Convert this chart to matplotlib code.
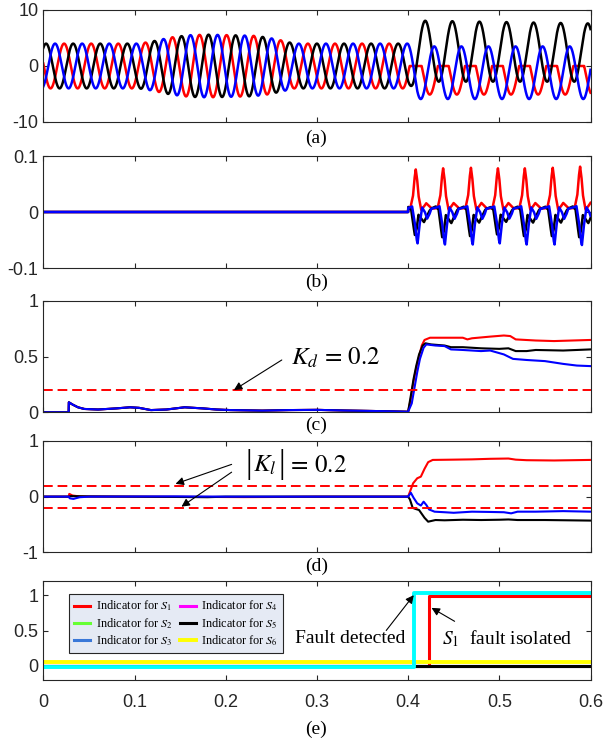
import numpy as np
import matplotlib
matplotlib.use('Agg')
import matplotlib.pyplot as plt

plt.rcParams['font.family'] = ['Liberation Sans', 'DejaVu Sans']
plt.rcParams['mathtext.fontset'] = 'stix'
plt.rcParams['axes.unicode_minus'] = False

SERIF = ['Liberation Serif', 'DejaVu Serif']
RED, BLACK, BLUE = '#ff0000', '#000000', '#0000ff'

# ---------------- (a) phase currents ----------------
period = 0.0297        # s, electrical period
first_peak = 0.003     # first peak of the black phase
lag_black, lag_blue, lag_red = 0.0, 1 / 3, 2 / 3   # fraction of a period

# amplitude envelope before the fault
env_t = [0.0, 0.105, 0.12, 0.14, 0.16, 0.18, 0.23, 0.245, 0.26, 0.275, 0.40]
env_amp = [4.0, 4.0, 4.4, 5.1, 5.5, 5.6, 5.4, 5.1, 4.6, 4.0, 4.0]

# amplitude / dc offset after the fault
fault_t = [0.400, 0.410, 0.600]
black_amp = [4.0, 5.45, 5.2]
black_off = [0.0, 2.65, 2.4]
blue_amp = [4.0, 4.7, 4.7]
blue_off = [0.0, -1.2, -1.2]
red_amp = [4.0, 3.9, 3.9]
red_off = [0.0, -1.2, -1.2]

# ---------------- (b) residuals ----------------
b_spike_t = [0.4084, 0.4384, 0.4689, 0.4985, 0.5280, 0.5586, 0.5886]
b_red_pk = [0.076, 0.078, 0.079, 0.078, 0.078, 0.079, 0.081]
b_black_pk = [-0.041, -0.045, -0.043, -0.040, -0.043, -0.043, -0.045]
b_blue_pk = [-0.056, -0.058, -0.058, -0.056, -0.058, -0.058, -0.059]
# one cycle of each residual around the spike
b_red_dt = [-0.0125, -0.006, -0.003, -0.0015, 0.0, 0.0015, 0.003, 0.006, 0.009, 0.0115, 0.014, 0.017]
b_red_v = [0.006, 0.007, 0.03, 0.06, 0.078, 0.06, 0.03, 0.004, 0.01, 0.016, 0.012, 0.007]
b_black_dt = [-0.0125, -0.008, -0.005, -0.003, -0.001, 0.001, 0.003, 0.006, 0.009, 0.012, 0.015, 0.017]
b_black_v = [0.006, 0.009, 0.004, -0.02, -0.041, -0.03, -0.005, -0.012, -0.018, -0.008, 0.002, 0.006]
b_blue_dt = [-0.0125, -0.007, -0.004, -0.001, 0.001, 0.002, 0.004, 0.007, 0.01, 0.0125, 0.015, 0.017]
b_blue_v = [0.006, 0.008, 0.01, -0.02, -0.05, -0.057, -0.025, 0.008, 0.0, -0.012, -0.004, 0.006]

# ---------------- (c) diagnostic variable ----------------
c_pre_t = [0.0, 0.0278, 0.028, 0.032, 0.038, 0.045, 0.06, 0.08, 0.095, 0.105, 0.118, 0.135,
           0.155, 0.175, 0.19, 0.205, 0.24, 0.27, 0.30, 0.33, 0.36, 0.385, 0.40]
c_pre_v = [0.0, 0.0, 0.09, 0.07, 0.045, 0.03, 0.025, 0.035, 0.045, 0.04, 0.02, 0.025,
           0.045, 0.035, 0.025, 0.02, 0.015, 0.02, 0.022, 0.016, 0.012, 0.008, 0.005]
c_red_t = [0.403, 0.406, 0.409, 0.412, 0.415, 0.418, 0.424, 0.44, 0.46, 0.465, 0.47, 0.49,
           0.505, 0.512, 0.518, 0.54, 0.56, 0.58, 0.60]
c_red_v = [0.12, 0.28, 0.40, 0.50, 0.60, 0.65, 0.67, 0.67, 0.67, 0.655, 0.665, 0.68,
           0.69, 0.685, 0.655, 0.645, 0.64, 0.645, 0.65]
c_black_t = [0.403, 0.406, 0.409, 0.412, 0.416, 0.419, 0.425, 0.44, 0.447, 0.46, 0.48, 0.50,
             0.51, 0.518, 0.53, 0.54, 0.57, 0.60]
c_black_v = [0.15, 0.30, 0.42, 0.52, 0.60, 0.62, 0.61, 0.60, 0.585, 0.585, 0.575, 0.57,
             0.575, 0.55, 0.55, 0.56, 0.555, 0.565]
c_blue_t = [0.404, 0.407, 0.41, 0.413, 0.417, 0.42, 0.43, 0.44, 0.447, 0.46, 0.48, 0.49,
            0.505, 0.515, 0.53, 0.55, 0.57, 0.585, 0.60]
c_blue_v = [0.08, 0.22, 0.36, 0.48, 0.58, 0.61, 0.60, 0.595, 0.565, 0.56, 0.55, 0.555,
            0.52, 0.48, 0.47, 0.46, 0.435, 0.42, 0.415]
k_d = 0.2

# ---------------- (d) localisation variable ----------------
d_red_t = [0.0, 0.0278, 0.0285, 0.032, 0.04, 0.10, 0.22, 0.25, 0.30, 0.40, 0.4055, 0.41,
           0.414, 0.418, 0.422, 0.427, 0.45, 0.47, 0.49, 0.51, 0.518, 0.53, 0.56, 0.60]
d_red_v = [0.0, 0.0, 0.05, 0.02, 0.004, 0.0, -0.008, -0.006, 0.0, 0.0, 0.24, 0.33,
           0.36, 0.50, 0.62, 0.66, 0.665, 0.67, 0.68, 0.685, 0.665, 0.655, 0.65, 0.66]
d_black_t = [0.0, 0.028, 0.03, 0.05, 0.15, 0.18, 0.20, 0.40, 0.402, 0.405, 0.408, 0.412,
             0.418, 0.422, 0.43, 0.44, 0.46, 0.48, 0.50, 0.51, 0.52, 0.55, 0.60]
d_black_v = [0.0, 0.0, 0.01, 0.004, -0.006, -0.01, 0.0, 0.0, -0.05, -0.2, -0.22, -0.24,
             -0.38, -0.45, -0.42, -0.425, -0.415, -0.42, -0.415, -0.41, -0.42, -0.42, -0.43]
d_blue_t = [0.0, 0.028, 0.029, 0.033, 0.04, 0.05, 0.145, 0.20, 0.40, 0.403, 0.406, 0.41,
            0.414, 0.417, 0.42, 0.423, 0.429, 0.44, 0.45, 0.47, 0.49, 0.505, 0.513, 0.52,
            0.54, 0.57, 0.60]
d_blue_v = [0.0, 0.0, -0.03, -0.04, -0.01, 0.0, 0.005, 0.0, 0.0, 0.07, -0.02, -0.12,
            -0.16, -0.09, -0.15, -0.23, -0.27, -0.28, -0.29, -0.27, -0.275, -0.28, -0.30, -0.27,
            -0.27, -0.26, -0.27]
k_l = 0.2

# ---------------- (e) fault indicators ----------------
e_t = [0.0, 0.4232, 0.6]
ind_s1 = [0.0, 0.985, 0.985]
ind_s2 = [0.0, 0.0, 0.0]
ind_s3 = [0.0, 0.0, 0.0]
ind_s4 = [0.0, 0.0, 0.0]
ind_s5 = [0.0, 0.0, 0.0]
ind_s6 = [0.05, 0.05, 0.05]
flag_t = [0.0, 0.4067, 0.6]
flag_v = [-0.01, 1.025, 1.025]

# ------------------------------------------------------------
t = np.linspace(0, 0.6, 6001)
pre = t < 0.4


def phase_current(lag, amp_post, off_post):
    amp = np.where(pre, np.interp(t, env_t, env_amp), np.interp(t, fault_t, amp_post))
    off = np.where(pre, 0.0, np.interp(t, fault_t, off_post))
    return off + amp * np.cos(2 * np.pi * (t - first_peak - lag * period) / period)


i_black = phase_current(lag_black, black_amp, black_off)
i_blue = phase_current(lag_blue, blue_amp, blue_off)
i_red = phase_current(lag_red, red_amp, red_off)
i_red[~pre] = np.minimum(i_red[~pre], 0.0)


def pulse_train(dt, shape, peaks):
    shape = np.asarray(shape)
    ref = shape[np.argmax(np.abs(shape))]
    ts = np.concatenate([np.asarray(dt) + tk for tk in b_spike_t])
    vs = np.concatenate([shape * pk / ref for pk in peaks])
    y = np.interp(t, ts, vs)
    y[pre] = 0.0
    return y


r_red = pulse_train(b_red_dt, b_red_v, b_red_pk)
r_black = pulse_train(b_black_dt, b_black_v, b_black_pk)
r_blue = pulse_train(b_blue_dt, b_blue_v, b_blue_pk)

W, H = 605, 741
fig = plt.figure(figsize=(W / 100, H / 100), dpi=100)


def add_panel(top, bottom):
    ax = fig.add_axes([43.3 / W, 1 - bottom / H, 547.2 / W, (bottom - top) / H])
    ax.set_xlim(0, 0.6)
    ax.set_xticks(np.arange(0, 0.61, 0.1))
    ax.tick_params(direction='in', top=True, right=True, length=3.5, width=0.8,
                   labelsize=13, colors='#262626', pad=3.5)
    ax.tick_params(axis='x', labelbottom=False)
    for s in ax.spines.values():
        s.set_color('#262626')
        s.set_linewidth(0.8)
    return ax


def panel_label(y, txt):
    fig.text(316.5 / W, 1 - y / H, txt, ha='center', va='center', fontsize=14, family=SERIF)


# (a)
ax = add_panel(10, 122)
ax.plot(t, i_red, color=RED, lw=1.8)
ax.plot(t, i_black, color=BLACK, lw=1.8)
ax.plot(t, i_blue, color=BLUE, lw=1.8)
ax.set_ylim(-10, 10)
ax.set_yticks([-10, 0, 10])
panel_label(138, '(a)')

# (b)
ax = add_panel(156, 268)
ax.plot(t, r_red, color=RED, lw=1.8)
ax.plot(t, r_black, color=BLACK, lw=1.8)
ax.plot(t, r_blue, color=BLUE, lw=1.8)
ax.set_ylim(-0.1, 0.1)
ax.set_yticks([-0.1, 0, 0.1])
ax.set_yticklabels(['-0.1', '0', '0.1'])
panel_label(282, '(b)')

arrow = dict(arrowstyle='-|>', color='k', lw=0.8, mutation_scale=12, shrinkA=0, shrinkB=0)

# (c)
ax = add_panel(301, 412.3)
ax.plot(c_pre_t + c_red_t, c_pre_v + c_red_v, color=RED, lw=1.5)
ax.plot(c_pre_t + c_black_t, c_pre_v + c_black_v, color=BLACK, lw=1.5)
ax.plot(c_pre_t + c_blue_t, c_pre_v + c_blue_v, color=BLUE, lw=1.5)
ax.axhline(k_d, color=RED, lw=1.4, dashes=(5, 2.5))
ax.set_ylim(0, 1)
ax.set_yticks([0, 0.5, 1])
ax.set_yticklabels(['0', '0.5', '1'])
ax.annotate('', xy=(0.209, k_d), xytext=(0.2615, 0.47), arrowprops=arrow)
ax.text(0.272, 0.49, r'$K_d\,=\,0.2$', fontsize=18, va='center')
panel_label(425, '(c)')

# (d)
ax = add_panel(441, 552.3)
ax.plot(d_red_t, d_red_v, color=RED, lw=1.5)
ax.plot(d_black_t, d_black_v, color=BLACK, lw=1.5)
ax.plot(d_blue_t, d_blue_v, color=BLUE, lw=1.5)
ax.axhline(k_l, color=RED, lw=1.4, dashes=(5, 2.5))
ax.axhline(-k_l, color=RED, lw=1.4, dashes=(5, 2.5))
ax.set_ylim(-1, 1)
ax.set_yticks([-1, 0, 1])
ax.annotate('', xy=(0.145, k_l + 0.03), xytext=(0.2065, 0.58), arrowprops=arrow)
ax.annotate('', xy=(0.1515, -k_l + 0.02), xytext=(0.2065, 0.44), arrowprops=arrow)
# |K_l| = 0.2 with tall bars
ax.text(0.2249, 0.57, '|', fontsize=24, ha='center', va='center', family=SERIF)
ax.text(0.2295, 0.56, r'$K_l$', fontsize=18, va='center')
ax.text(0.2614, 0.57, '|', fontsize=24, ha='center', va='center', family=SERIF)
ax.text(0.2675, 0.56, r'$=\,0.2$', fontsize=18, va='center')
panel_label(566, '(d)')

# (e)
ax = add_panel(581, 680)
ax.tick_params(axis='x', labelbottom=True, pad=10)
ax.set_xticklabels(['0', '0.1', '0.2', '0.3', '0.4', '0.5', '0.6'])
h1, = ax.step(e_t, ind_s1, where='post', color='#ff0000', lw=2.2, label=r'Indicator for $S_1$')
h2, = ax.step(e_t, ind_s2, where='post', color='#66ff33', lw=2.2, label=r'Indicator for $S_2$')
h3, = ax.step(e_t, ind_s3, where='post', color='#3a78d8', lw=2.2, label=r'Indicator for $S_3$')
h4, = ax.step(e_t, ind_s4, where='post', color='#ff00ff', lw=2.2, label=r'Indicator for $S_4$')
h5, = ax.step(e_t, ind_s5, where='post', color='#000000', lw=2.2, label=r'Indicator for $S_5$')
h6, = ax.step(e_t, ind_s6, where='post', color='#ffff00', lw=2.8, label=r'Indicator for $S_6$')
ax.step(flag_t, flag_v, where='post', color='#00ffff', lw=2.8)
ax.set_ylim(-0.2, 1.2)
ax.set_yticks([0, 0.5, 1])
ax.set_yticklabels(['0', '0.5', '1'])
leg = ax.legend(handles=[h1, h2, h3, h4, h5, h6], ncol=2, loc='upper left',
                bbox_to_anchor=(0.0477, 0.869), borderaxespad=0,
                prop={'family': SERIF, 'size': 8.8}, handlelength=1.3, handletextpad=0.45,
                columnspacing=0.6, labelspacing=0.22, borderpad=0.4,
                fancybox=False, framealpha=1)
leg.get_frame().set_facecolor('#e5eaf4')
leg.get_frame().set_edgecolor('#262626')
leg.get_frame().set_linewidth(0.8)
ax.annotate('', xy=(0.4062, 1.0), xytext=(0.376, 0.5), arrowprops=arrow)
ax.text(0.276, 0.39, 'Fault detected', fontsize=14, va='center', family=SERIF)
ax.annotate('', xy=(0.4257, 0.82), xytext=(0.451, 0.63), arrowprops=arrow)
ax.text(0.437, 0.39, r'$S_1$  fault isolated', fontsize=14, va='center', family=SERIF)
panel_label(729, '(e)')

fig.savefig('out.png', dpi=100)
